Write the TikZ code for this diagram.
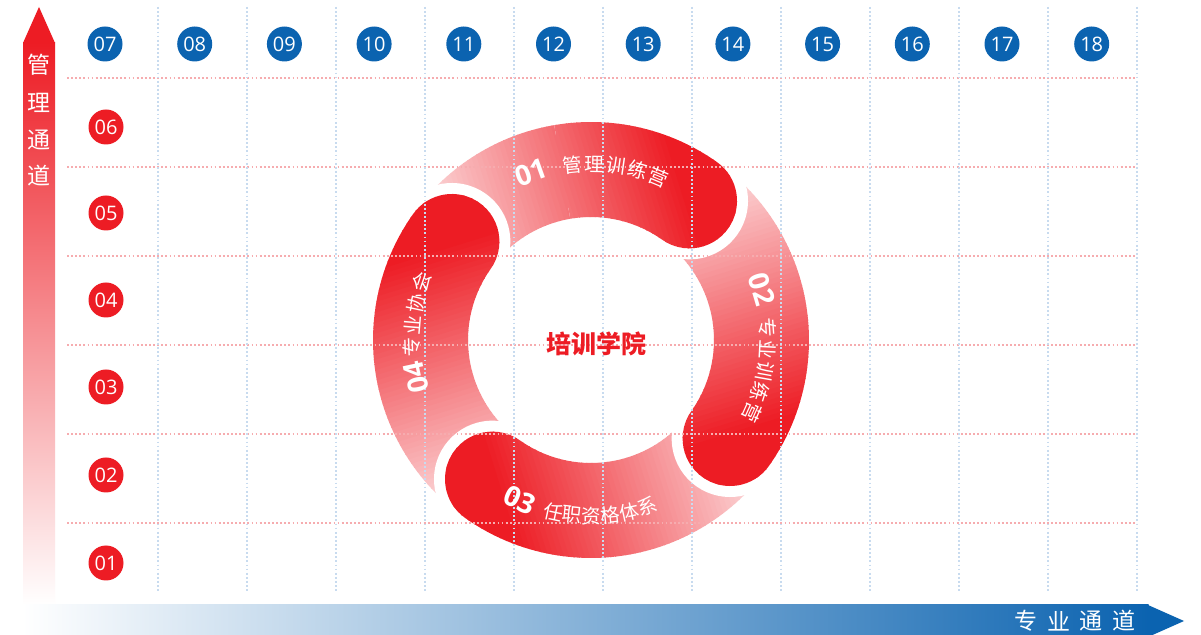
\documentclass[tikz,border=0pt]{standalone}
\usepackage{fontspec}
\setmainfont{Open Sans}
\newfontfamily\cjk{Noto Sans CJK SC}
\definecolor{rd}{RGB}{237,28,36}
\definecolor{bl}{RGB}{11,99,176}
\definecolor{gridr}{RGB}{246,172,175}
\definecolor{gridb}{RGB}{200,219,239}
\newcommand\segstrips{%
  \foreach \i in {0,...,74} {%
    \pgfmathsetmacro\xx{-185+5*\i}%
    \pgfmathsetmacro\ff{min(100,max(0,(\xx+170)/3.0))}%
    \fill[rd!\ff!white] (\xx,20) rectangle ({\xx+5.8},232);
  }%
}
\tikzset{
  numcirc/.style={circle, inner sep=0pt, minimum size=35pt, text=white, font=\fontsize{20}{20}\selectfont},
  bluec/.style={numcirc, fill=bl},
  redc/.style={numcirc, fill=rd},
  gridh/.style={gridr, line width=1.8pt, dash pattern=on 1.8pt off 2.3pt},
  gridv/.style={gridb, line width=1.8pt, dash pattern=on 1.8pt off 2.3pt},
  ringtxt/.style={text=white, inner sep=0pt, font=\cjk\fontsize{19.5}{20}\selectfont},
  ringnum/.style={text=white, inner sep=0pt, font=\bfseries\fontsize{28}{28}\selectfont},
  axtxt/.style={text=white, inner sep=0pt, font=\cjk\fontsize{23}{23}\selectfont},
  band/.style={insert path={(142.5:218) arc[start angle=142.5, end angle=37.5, radius=218]
     arc[start angle=37.5, end angle=-142.5, radius=47.5]
     arc[start angle=37.5, end angle=142.5, radius=123] -- cycle}},
  halo/.style={white, line width=22pt, line join=round},
}
\begin{document}
\begin{tikzpicture}[x=1pt,y=1pt]
\useasboundingbox (0,0) rectangle (1201,634);
\fill[white] (0,0) rectangle (1201,634);

% ---------- ring ----------
% 01 tail part
\begin{scope}[shift={(591,294)}, rotate=17.2]
  \begin{scope}
    \clip (0,0) -- (80:400) -- (130:600) -- (178:400) -- cycle;
    \clip[band];
    \segstrips
  \end{scope}
\end{scope}
% 04, 03, 02
\foreach \r in {107.2,197.2,-72.8} {
  \begin{scope}[shift={(591,294)}, rotate=\r]
    \draw[halo, band];
    \begin{scope}
      \clip[band];
      \segstrips
    \end{scope}
  \end{scope}
}
% 01 head part
\begin{scope}[shift={(591,294)}, rotate=17.2]
  \begin{scope}
    \clip (0,0) -- (82.5:400) -- (40:600) -- (-25:400) -- cycle;
    \draw[halo, band];
    \clip[band];
    \segstrips
  \end{scope}
\end{scope}

% ---------- grid ----------
\foreach \y in {556,467,378,289,200,111} \draw[gridh] (67,\y) -- (1137,\y);
\foreach \k in {0,...,11} \draw[gridv] ({158+89*\k},627) -- ({158+89*\k},41);

% ---------- ring texts ----------
\begin{scope}[shift={(591,294)}]
  \node[ringnum, rotate=19.6] (t01) at (109.6:178) {01};
  \foreach \c/\a [count=\j] in {管/96.2,理/89.0,训/81.8,练/74.6,营/67.4}
    \node[ringtxt, rotate=\a-90] (ta\j) at (\a:176) {\c};
  \node[ringnum, rotate=-73.5] (t02) at (16.5:178) {02};
  \foreach \c/\a [count=\j] in {专/4.0,业/-3.0,训/-10.1,练/-17.2,营/-24.3}
    \node[ringtxt, rotate=\a-90] (tb\j) at (\a:177) {\c};
  \node[ringnum, rotate=-24] (t03) at (-114:175) {03};
  \foreach \c/\a [count=\j] in {任/-102.3,职/-96.1,资/-89.9,格/-83.7,体/-77.5,系/-71.3}
    \node[ringtxt, rotate=\a+90] (tc\j) at (\a:176) {\c};
  \node[ringnum, rotate=102] (t04) at (192:179) {04};
  \foreach \c/\a [count=\j] in {专/182.3,业/175.2,协/168.1,会/161.0}
    \node[ringtxt, rotate=\a-90] (td\j) at (\a:179) {\c};
\end{scope}
\node[font=\cjk\bfseries\fontsize{25}{25}\selectfont, text=rd, inner sep=0pt] (ctr) at (596,290) {培训学院};

% ---------- number circles ----------
\foreach \n [count=\k from 0] in {07,08,09,10,11,12,13,14,15,16,17,18}
  \node[bluec] (b\n) at ({105+89.7*\k},590) {\n};
\foreach \n/\y in {06/507,05/421,04/334,03/247,02/159,01/71}
  \node[redc] (r\n) at (106,\y) {\n};

% ---------- axes ----------
\shade[top color=rd, bottom color=white] (23,29) rectangle (55,591.5);
\fill[rd] (23,591) -- (55,591) -- (39,627) -- cycle;
\foreach \c/\y [count=\j] in {管/569,理/531,通/494,道/458}
  \node[axtxt] (m\j) at (39,\y) {\c};

\shade[left color=white, middle color=bl!42!white, right color=bl] (22,-3) rectangle (1148.5,29);
\fill[bl] (1148,29) -- (1148,-3) -- (1184,13) -- cycle;
\foreach \c/\x [count=\j] in {专/1026,业/1058.5,通/1091,道/1123.5}
  \node[axtxt] (h\j) at (\x,13) {\c};
\end{tikzpicture}
\end{document}
